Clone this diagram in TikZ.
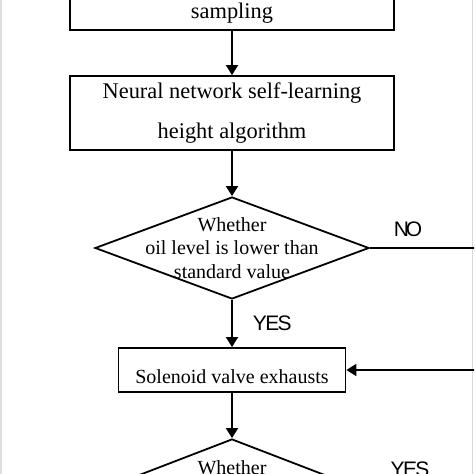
\documentclass[tikz,border=0pt]{standalone}
\usepackage{fontspec}
\setmainfont{Liberation Serif}
\newfontfamily\flowsans{Liberation Sans}
\usetikzlibrary{shapes.geometric,arrows.meta}

\begin{document}
\begin{tikzpicture}[x=0.5pt, y=-0.5pt,
	procbox/.style={draw, line width=0.9pt, minimum width=162pt, minimum height=36pt, align=center, font=\fontsize{11.2}{20}\selectfont},
	decide/.style={draw, diamond, line width=0.9pt, minimum width=137pt, minimum height=51pt, inner sep=0pt},
	decidetext/.style={align=center, inner sep=0pt, font=\fontsize{10}{11.8}\selectfont},
	answer/.style={inner sep=0pt, font=\flowsans\fontsize{10.5}{12}\selectfont},
	flow/.style={line width=0.9pt, -{Triangle[length=5pt, width=6pt]}}]
	\useasboundingbox (0,0) rectangle (474,474);
	\clip (0,0) rectangle (474,474);
	\fill[gray!25] (0,0) rectangle (2,474);
	\draw[gray!30, line width=0.5pt] (472.5,0) -- (472.5,474);

	\node[procbox] (sample) at (232,-7) {\vphantom{h}\\sampling};
	\node[procbox] (nnet) at (232,113) {Neural network self-learning\\height algorithm};
	\node[decide] (lowcheck) at (232,248) {};
	\node[decidetext] (lowtext) at (lowcheck) {Whether\\oil level is lower than\\standard value};
	\node[procbox, minimum width=113.5pt, minimum height=22pt, text height=13pt, text depth=0pt, font=\fontsize{10}{12}\selectfont] (exhaust) at (232,370) {Solenoid valve exhausts};
	\node[decide, minimum width=132pt] (fullcheck) at (232,490) {};
	\node[decidetext, anchor=base] (fulltext) at (232,474) {Whether};

	\coordinate (noend) at (480,248);
	\coordinate (backstart) at (480,370);

	\draw[flow] (sample) -- (nnet);
	\draw[flow] (nnet) -- (lowcheck);
	\draw[flow] (lowcheck) -- node[answer, anchor=west, xshift=10pt] (yeslow) {Y\kern-0.8pt E\kern-0.8pt S} (exhaust);
	\draw[flow] (exhaust) -- (fullcheck);
	\draw[line width=0.9pt] (lowcheck.east) -- (noend);
	\draw[flow] (backstart) -- (exhaust.east);

	\node[answer] (nolabel) at (408,229) {N\kern-1.5pt O};
	\node[answer] (yesfull) at (410,469) {Y\kern-0.8pt E\kern-0.8pt S};
\end{tikzpicture}
\end{document}
